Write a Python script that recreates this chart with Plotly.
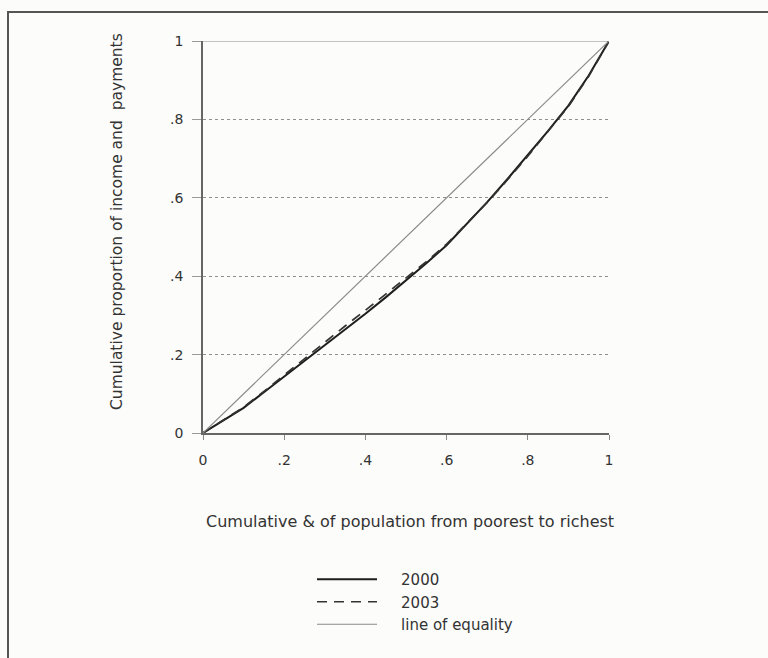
import plotly.graph_objects as go

# Concentration (Lorenz-type) curves of income and payments
pop_share = [0, .05, .10, .15, .20, .25, .30, .35, .40, .45, .50,
             .55, .60, .65, .70, .75, .80, .85, .90, .95, 1.0]
cum_2000 = [0, .031, .064, .104, .144, .184, .224, .263, .304, .346, .389,
            .433, .479, .533, .589, .648, .709, .771, .835, .912, 1.0]
cum_2003 = [0, .032, .066, .106, .148, .191, .233, .273, .313, .355, .396,
            .437, .482, .534, .588, .646, .706, .770, .833, .910, 1.0]
equality = [0, 1]

tick_vals = [0, .2, .4, .6, .8, 1]
tick_text = ["0", ".2", ".4", ".6", ".8", "1"]

FONT = "DejaVu Sans"
TXT = "#333333"
PAD = "\u00a0\u00a0\u00a0\u00a0"  # gap between legend sample and label

fig = go.Figure()
fig.add_trace(go.Scatter(x=pop_share, y=cum_2000, mode="lines", name=PAD + "2000",
                         line=dict(color="#1e1e1e", width=2)))
fig.add_trace(go.Scatter(x=pop_share, y=cum_2003, mode="lines", name=PAD + "2003",
                         line=dict(color="#333333", width=1.7, dash="10px,7px")))
fig.add_trace(go.Scatter(x=equality, y=equality, mode="lines", name=PAD + "line of equality",
                         line=dict(color="#8a8a8a", width=1.2)))

# Plot area: x 203..609 px, y 41..433 px
L, R, T, B = 203, 159, 41, 225
W, H = 768, 658
pw, ph = W - L - R, H - T - B

def px(xp):
    return (xp - L) / pw

def py(yp):
    return (H - B - yp) / ph

fig.update_layout(
    width=W, height=H,
    margin=dict(l=L, r=R, t=T, b=B),
    paper_bgcolor="#fcfcfa", plot_bgcolor="#fcfcfa",
    font=dict(family=FONT, color=TXT, size=14),
    showlegend=True,
    legend=dict(x=px(312), y=py(563), xanchor="left", yanchor="top",
                bgcolor="rgba(0,0,0,0)", itemwidth=60, tracegroupgap=0,
                font=dict(family=FONT, size=15, color=TXT)),
    xaxis=dict(range=[0, 1], tickvals=tick_vals, ticktext=tick_text,
               showgrid=False, zeroline=False, showline=True,
               linecolor="#666666", linewidth=1.5,
               ticks="outside", ticklen=5, tickcolor="#888888",
               tickfont=dict(size=14, color=TXT), ticklabelstandoff=8),
    yaxis=dict(range=[0, 1], tickvals=tick_vals, ticktext=tick_text,
               showgrid=True, gridcolor="#8f8f8f", griddash="dot", gridwidth=1,
               zeroline=False, showline=True,
               linecolor="#666666", linewidth=1.5,
               ticks="outside", ticklen=9, tickcolor="#999999",
               tickfont=dict(size=14, color=TXT), ticklabelstandoff=6),
    shapes=[
        # solid top rule at y = 1
        dict(type="line", xref="x", yref="y", x0=0, x1=1, y0=1, y1=1,
             line=dict(color="#8a8a8a", width=1.2), layer="below"),
        # outer frame
        dict(type="rect", xref="paper", yref="paper",
             x0=px(8), x1=px(790), y0=py(680), y1=py(12),
             line=dict(color="#555555", width=2), fillcolor="rgba(0,0,0,0)"),
    ],
    annotations=[
        dict(text="Cumulative proportion of income and\u00a0 payments",
             xref="paper", yref="paper", x=px(117), y=py(222),
             xanchor="center", yanchor="middle",
             textangle=-90, showarrow=False,
             font=dict(family=FONT, size=15.5, color=TXT)),
        dict(text="Cumulative & of population from poorest to richest",
             xref="paper", yref="paper", x=px(410), y=py(533),
             showarrow=False, font=dict(family=FONT, size=16, color=TXT)),
    ],
)

fig.write_html("out.html")
